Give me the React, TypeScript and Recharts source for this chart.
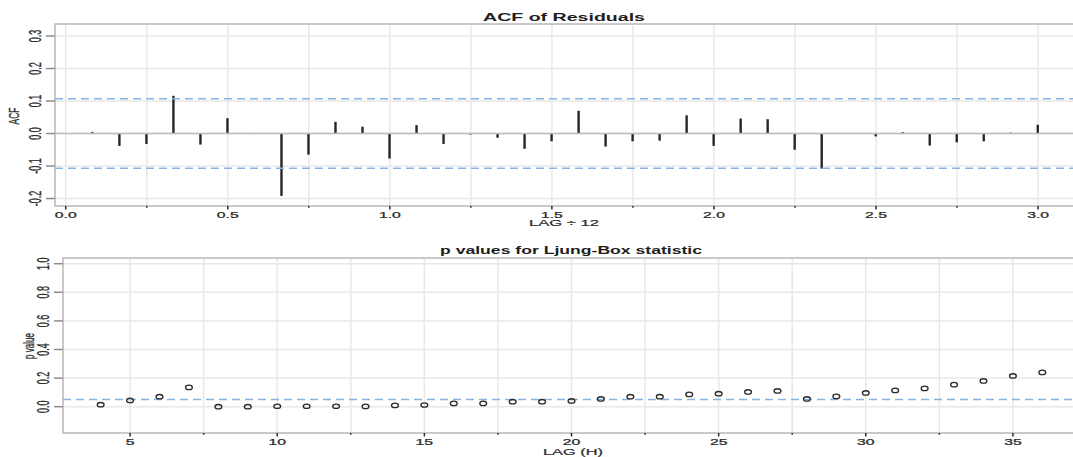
import {
  ComposedChart,
  Bar,
  Scatter,
  XAxis,
  YAxis,
  CartesianGrid,
  ReferenceLine,
  ReferenceArea,
} from "recharts";

// ACF of residuals, lag in months (plotted as lag / 12)
const acfLagIndex = [
  1, 2, 3, 4, 5, 6, 7, 8, 9, 10, 11, 12, 13, 14, 15, 16, 17, 18, 19, 20, 21,
  22, 23, 24, 25, 26, 27, 28, 29, 30, 31, 32, 33, 34, 35, 36,
];
const acfValues = [
  0.005, -0.038, -0.032, 0.116, -0.034, 0.047, 0.002, -0.192, -0.065, 0.036,
  0.021, -0.077, 0.026, -0.032, -0.003, -0.013, -0.047, -0.024, 0.07, -0.04,
  -0.024, -0.022, 0.056, -0.038, 0.046, 0.044, -0.05, -0.108, 0.0, -0.009,
  0.004, -0.037, -0.027, -0.024, 0.003, 0.027,
];
const acfBound = 0.107;
const acfXTicks = [
  0, 0.25, 0.5, 0.75, 1, 1.25, 1.5, 1.75, 2, 2.25, 2.5, 2.75, 3,
];
const acfYTicks = [-0.2, -0.1, 0, 0.1, 0.2, 0.3];

// Ljung-Box p values
const lbLags = [
  4, 5, 6, 7, 8, 9, 10, 11, 12, 13, 14, 15, 16, 17, 18, 19, 20, 21, 22, 23,
  24, 25, 26, 27, 28, 29, 30, 31, 32, 33, 34, 35, 36,
];
const lbPValues = [
  0.014, 0.044, 0.07, 0.135, 0.0, 0.0, 0.003, 0.003, 0.003, 0.002, 0.009,
  0.012, 0.023, 0.023, 0.035, 0.035, 0.04, 0.054, 0.07, 0.07, 0.086, 0.091,
  0.103, 0.11, 0.054, 0.072, 0.096, 0.114, 0.128, 0.154, 0.18, 0.215, 0.24,
];
const lbAlpha = 0.05;
const lbXTicks = [5, 7.5, 10, 12.5, 15, 17.5, 20, 22.5, 25, 27.5, 30, 32.5, 35];
const lbYTicks = [0, 0.2, 0.4, 0.6, 0.8, 1];

const acfRows = acfLagIndex.map((k, i) => ({ lag: k / 12, acf: acfValues[i] }));
const lbRows = lbLags.map((h, i) => ({ lag: h, p: lbPValues[i] }));

const ACF_X: [number, number] = [-0.033, 3.117];
const ACF_Y: [number, number] = [-0.223, 0.337];
const LB_X: [number, number] = [2.72, 37.28];
const LB_Y: [number, number] = [-0.184, 1.04];

const SX = 1.75; // the picture's text is stretched sideways
const INK = "#2b2b2b";
const GRID = "#e8e8e8";
const FRAME = "#bdbdbd";
const BLUE = "#86b3e8";

function XTick(props: any) {
  const { x, y, payload, isMajor, fmt } = props;
  const v = payload.value as number;
  const major = isMajor(v);
  return (
    <g>
      <line
        x1={x}
        x2={x}
        y1={y}
        y2={y + (major ? 3.5 : 1.8)}
        stroke={INK}
        strokeWidth={1.5}
      />
      {major && (
        <text
          transform={`translate(${x},${y + 12}) scale(${SX},1)`}
          textAnchor="middle"
          fontSize={9}
          fill={INK}
          stroke={INK}
          strokeWidth={0.25}
        >
          {fmt(v)}
        </text>
      )}
    </g>
  );
}

function YTick(props: any) {
  const { x, y, payload } = props;
  return (
    <g>
      <line x1={x - 9} x2={x} y1={y} y2={y} stroke="#8c8c8c" strokeWidth={1.5} />
      <text
        transform={`translate(${x - 14},${y}) scale(${SX},1) rotate(-90)`}
        textAnchor="middle"
        fontSize={9}
        fill={INK}
        stroke={INK}
        strokeWidth={0.2}
      >
        {(payload.value as number).toFixed(1)}
      </text>
    </g>
  );
}

export default function App() {
  return (
    <div
      style={{
        position: "absolute",
        left: 0,
        top: 0,
        width: 1073,
        height: 457,
        overflow: "hidden",
        background: "#fff",
        fontFamily: "'Liberation Sans', Arial, sans-serif",
      }}
    >
      {/* ACF panel */}
      <div style={{ position: "absolute", left: 0, top: 0 }}>
        <ComposedChart
          width={1076}
          height={230}
          data={acfRows}
          margin={{ top: 24, right: 0, bottom: 0, left: 0 }}
        >
          <CartesianGrid stroke={GRID} strokeWidth={1.5} />
          <XAxis
            type="number"
            dataKey="lag"
            domain={ACF_X}
            allowDataOverflow
            ticks={acfXTicks}
            interval={0}
            height={24}
            axisLine={false}
            tickLine={false}
            tickSize={0}
            tickMargin={0}
            tick={(p: any) => (
              <XTick
                {...p}
                isMajor={(v: number) => Math.abs(v * 2 - Math.round(v * 2)) < 1e-6}
                fmt={(v: number) => v.toFixed(1)}
              />
            )}
          />
          <YAxis
            type="number"
            domain={ACF_Y}
            allowDataOverflow
            ticks={acfYTicks}
            interval={0}
            width={55}
            axisLine={false}
            tickLine={false}
            tickSize={0}
            tickMargin={0}
            tick={(p: any) => <YTick {...p} />}
          />
          <ReferenceArea
            x1={ACF_X[0]}
            x2={ACF_X[1]}
            y1={ACF_Y[0]}
            y2={ACF_Y[1]}
            fill="none"
            fillOpacity={0}
            stroke={FRAME}
            strokeWidth={1.5}
            ifOverflow="visible"
          />
          <ReferenceLine y={0} stroke={FRAME} strokeWidth={1.5} />
          <ReferenceLine
            y={acfBound}
            stroke={BLUE}
            strokeWidth={1.5}
            strokeDasharray="8 5"
          />
          <ReferenceLine
            y={-acfBound}
            stroke={BLUE}
            strokeWidth={1.5}
            strokeDasharray="8 5"
          />
          <Bar dataKey="acf" fill="#262626" barSize={2.4} isAnimationActive={false} />
        </ComposedChart>
      </div>

      {/* Ljung-Box panel */}
      <div style={{ position: "absolute", left: 0, top: 230 }}>
        <ComposedChart
          width={1080}
          height={227}
          data={lbRows}
          margin={{ top: 28, right: 0, bottom: 0, left: 0 }}
        >
          <CartesianGrid stroke={GRID} strokeWidth={1.5} />
          <XAxis
            type="number"
            dataKey="lag"
            domain={LB_X}
            allowDataOverflow
            ticks={lbXTicks}
            interval={0}
            height={24}
            axisLine={false}
            tickLine={false}
            tickSize={0}
            tickMargin={0}
            tick={(p: any) => (
              <XTick
                {...p}
                isMajor={(v: number) => v % 5 === 0}
                fmt={(v: number) => String(v)}
              />
            )}
          />
          <YAxis
            type="number"
            domain={LB_Y}
            allowDataOverflow
            ticks={lbYTicks}
            interval={0}
            width={63}
            axisLine={false}
            tickLine={false}
            tickSize={0}
            tickMargin={0}
            tick={(p: any) => <YTick {...p} />}
          />
          <ReferenceArea
            x1={LB_X[0]}
            x2={LB_X[1]}
            y1={LB_Y[0]}
            y2={LB_Y[1]}
            fill="none"
            fillOpacity={0}
            stroke={FRAME}
            strokeWidth={1.5}
            ifOverflow="visible"
          />
          <ReferenceLine
            y={lbAlpha}
            stroke={BLUE}
            strokeWidth={1.5}
            strokeDasharray="8 5"
          />
          <Scatter
            dataKey="p"
            isAnimationActive={false}
            shape={(p: any) => (
              <ellipse
                cx={p.cx}
                cy={p.cy}
                rx={3.4}
                ry={2.2}
                fill="none"
                stroke={INK}
                strokeWidth={1.3}
              />
            )}
          />
        </ComposedChart>
      </div>

      {/* titles and axis names */}
      <svg
        width={1073}
        height={457}
        style={{ position: "absolute", left: 0, top: 0, pointerEvents: "none" }}
      >
        <text
          x={564}
          y={21}
          textAnchor="middle"
          fontSize={11.5}
          fontWeight="bold"
          fill="#1e1e1e"
          textLength={162}
          lengthAdjust="spacingAndGlyphs"
        >
          ACF of Residuals
        </text>
        <text
          x={564}
          y={226}
          textAnchor="middle"
          fontSize={9}
          fill={INK}
          stroke={INK}
          strokeWidth={0.2}
          textLength={70}
          lengthAdjust="spacingAndGlyphs"
        >
          LAG ÷ 12
        </text>
        <text
          transform={`translate(19,116) scale(${SX},1) rotate(-90)`}
          textAnchor="middle"
          fontSize={8.5}
          fill={INK}
          stroke={INK}
          strokeWidth={0.2}
        >
          ACF
        </text>
        <text
          x={571}
          y={254}
          textAnchor="middle"
          fontSize={11.5}
          fontWeight="bold"
          fill="#1e1e1e"
          textLength={262}
          lengthAdjust="spacingAndGlyphs"
        >
          p values for Ljung-Box statistic
        </text>
        <text
          x={573}
          y={455}
          textAnchor="middle"
          fontSize={9}
          fill={INK}
          stroke={INK}
          strokeWidth={0.2}
          textLength={60}
          lengthAdjust="spacingAndGlyphs"
        >
          LAG (H)
        </text>
        <text
          transform={`translate(34,346) scale(${SX},1) rotate(-90)`}
          textAnchor="middle"
          fontSize={8}
          fill={INK}
          stroke={INK}
          strokeWidth={0.2}
        >
          p value
        </text>
      </svg>
    </div>
  );
}
